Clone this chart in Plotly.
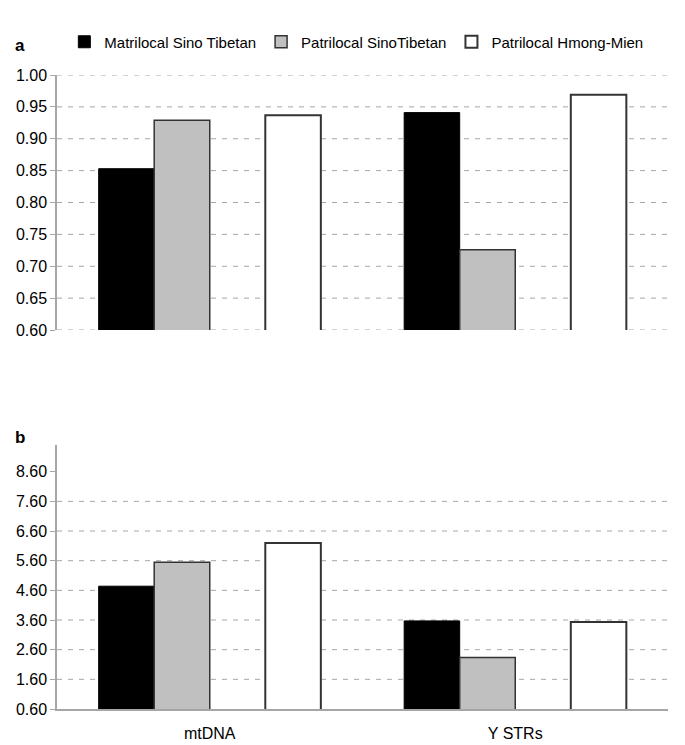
import plotly.graph_objects as go

categories = ["mtDNA", "Y STRs"]
series_names = ["Matrilocal Sino Tibetan", "Patrilocal SinoTibetan", "Patrilocal Hmong-Mien"]

# panel a values
a_matri_st = [0.853, 0.941]
a_patri_st = [0.929, 0.726]
a_patri_hm = [0.937, 0.969]

# panel b values
b_matri_st = [4.74, 3.57]
b_patri_st = [5.55, 2.34]
b_patri_hm = [6.20, 3.53]

a_ticks = [0.60, 0.65, 0.70, 0.75, 0.80, 0.85, 0.90, 0.95, 1.00]
b_ticks = [0.60, 1.60, 2.60, 3.60, 4.60, 5.60, 6.60, 7.60, 8.60]

FONT = "Liberation Sans, Arial, sans-serif"
GRID = "#A6A6A6"
AXIS = "#A6A6A6"

styles = [
    dict(color="#000000", line=dict(color="#000000", width=1)),
    dict(color="#C0C0C0", line=dict(color="#333333", width=1.5)),
    dict(color="#FFFFFF", line=dict(color="#333333", width=2)),
]

fig = go.Figure()

def add_panel(vals_list, xa, ya, show_legend):
    for i, (name, vals) in enumerate(zip(series_names, vals_list)):
        if i == 2:
            # empty slot (no Matrilocal Hmong-Mien data)
            fig.add_trace(go.Bar(x=categories, y=[None, None], name="empty",
                                 xaxis=xa, yaxis=ya, showlegend=False,
                                 hoverinfo="skip", marker=dict(color="rgba(0,0,0,0)")))
        fig.add_trace(go.Bar(x=categories, y=vals, name=name, xaxis=xa, yaxis=ya,
                             marker=styles[i], showlegend=show_legend,
                             legendgroup=name))

add_panel([a_matri_st, a_patri_st, a_patri_hm], "x", "y", True)
add_panel([b_matri_st, b_patri_st, b_patri_hm], "x2", "y2", False)

shapes = []
for v in a_ticks:
    shapes.append(dict(type="line", xref="x domain", yref="y", x0=0, x1=1, y0=v, y1=v,
                       line=dict(color=GRID, width=1, dash="5px,6px"), layer="below"))
for v in b_ticks[1:-1]:
    shapes.append(dict(type="line", xref="x2 domain", yref="y2", x0=0, x1=1, y0=v, y1=v,
                       line=dict(color=GRID, width=1, dash="5px,6px"), layer="below"))

H = 745.0
fig.update_layout(
    width=685, height=745,
    margin=dict(l=57, r=17, t=0, b=0, autoexpand=False),
    paper_bgcolor="white", plot_bgcolor="white",
    barmode="group", bargap=1.5 / 5.5, bargroupgap=0,
    font=dict(family=FONT, size=16, color="#000000"),
    showlegend=True,
    legend=dict(orientation="h", x=0.012, xanchor="left", y=1 - 42 / H, yanchor="middle",
                font=dict(size=15), itemwidth=30, tracegroupgap=0,
                bgcolor="rgba(0,0,0,0)"),
    xaxis=dict(domain=[0, 1], anchor="y", showticklabels=False, showline=False,
               showgrid=False, ticks="", automargin=False),
    yaxis=dict(domain=[1 - 330 / H, 1 - 75 / H], anchor="x", range=[0.6, 1.0],
               tickvals=a_ticks, ticktext=[f"{v:.2f}" for v in a_ticks],
               showgrid=False, zeroline=False, showline=True, linecolor=AXIS, linewidth=1.5,
               ticks="outside", ticklen=5, tickcolor=AXIS, tickwidth=1,
               tickfont=dict(size=16), automargin=False),
    xaxis2=dict(domain=[0, 1], anchor="y2", showline=True, linecolor=AXIS, linewidth=1.5,
                showgrid=False, ticks="", tickfont=dict(size=16), ticklabelstandoff=9,
                automargin=False),
    yaxis2=dict(domain=[1 - 709 / H, 1 - 445 / H], anchor="x2", range=[0.6, 9.5],
                tickvals=b_ticks, ticktext=[f"{v:.2f}" for v in b_ticks],
                showgrid=False, zeroline=False, showline=True, linecolor=AXIS, linewidth=1.5,
                ticks="outside", ticklen=5, tickcolor=AXIS, tickwidth=1,
                tickfont=dict(size=16), automargin=False),
    shapes=shapes,
    annotations=[
        dict(text="<b>a</b>", xref="paper", yref="paper", x=-0.06, y=1 - 45 / H,
             xanchor="center", yanchor="middle", showarrow=False, font=dict(size=17)),
        dict(text="<b>b</b>", xref="paper", yref="paper", x=-0.06, y=1 - 437 / H,
             xanchor="center", yanchor="middle", showarrow=False, font=dict(size=17)),
    ],
)

fig.write_html("out.html", config={"displayModeBar": False},
               post_script="document.body.style.margin='0';")
